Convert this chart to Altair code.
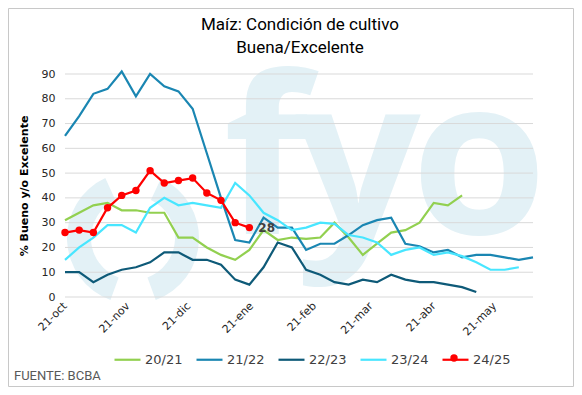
import json
import altair as alt
import pandas as pd

# ---------------- data ----------------
dates = ["2024-10-21", "2024-10-28", "2024-11-04", "2024-11-11", "2024-11-18", "2024-11-25",
         "2024-12-02", "2024-12-09", "2024-12-16", "2024-12-23", "2024-12-30",
         "2025-01-06", "2025-01-13", "2025-01-20", "2025-01-27",
         "2025-02-03", "2025-02-10", "2025-02-17", "2025-02-24",
         "2025-03-03", "2025-03-10", "2025-03-17", "2025-03-24", "2025-03-31",
         "2025-04-07", "2025-04-14", "2025-04-21", "2025-04-28",
         "2025-05-05", "2025-05-12", "2025-05-19", "2025-05-26",
         "2025-06-02", "2025-06-09"]

tick_dates = ["2024-10-21", "2024-11-21", "2024-12-21", "2025-01-21",
              "2025-02-21", "2025-03-21", "2025-04-21", "2025-05-21"]
tick_labels = ["21-oct", "21-nov", "21-dic", "21-ene", "21-feb", "21-mar", "21-abr", "21-may"]
y_ticks = [0, 10, 20, 30, 40, 50, 60, 70, 80, 90]

title_lines = ["Maíz: Condición de cultivo", "Buena/Excelente"]
source_text = "FUENTE: BCBA"

seasons = ["20/21", "21/22", "22/23", "23/24", "24/25"]
colors = ["#92D050", "#1A86B2", "#0E5A78", "#48E6FF", "#FF0000"]
widths = [2.2, 2.2, 2.2, 3.6, 2.2]

s2021 = [31, 34, 37, 38, 35, 35, 34, 34, 24, 24, 20, 17, 15, 19, 27, 23, 24, 23.5, 24, 30,
         24, 17, 21.5, 26, 27, 30, 38, 37, 41]
s2122 = [65, 73, 82, 84, 91, 81, 90, 85, 83, 76, 58, 40, 23, 22, 32, 28, 28, 19, 21.5, 21.5,
         25, 29, 31, 32, 21.5, 20.5, 18, 19, 16, 17, 17, 16, 15, 16]
s2223 = [10, 10, 6, 9, 11, 12, 14, 18, 18, 15, 15, 13, 7, 5, 12, 22, 20, 11, 9, 6,
         5, 7, 6, 9, 7, 6, 6, 5, 4, 2]
s2324 = [15, 20, 24, 29, 29, 26, 36, 40, 37, 38, 37, 36, 46, 41, 34, 31, 27, 28, 30, 29.5,
         25, 24, 22, 17, 19, 20, 17, 18, 16.5, 14, 11, 11, 12]
s2425 = [26, 27, 26, 36, 41, 43, 51, 46, 47, 48, 42, 39, 30, 28]

series = [s2021, s2122, s2223, s2324, s2425]

# ---------------- frames ----------------
origin = pd.Timestamp(dates[0])
days = [int((pd.Timestamp(d) - origin).days) for d in dates]
tick_days = [int((pd.Timestamp(d) - origin).days) for d in tick_dates]

rows = []
for name, vals in zip(seasons, series):
    for i, v in enumerate(vals):
        rows.append({"season": name, "day": days[i], "value": v})
df = pd.DataFrame(rows)
last = pd.DataFrame([{"day": days[len(s2425) - 1], "value": s2425[-1]}])
grid_df = pd.DataFrame({"value": y_ticks})
one = pd.DataFrame({"k": [0]})

W, H = 468, 223
WM = "#E3F1F6"
TFONT = "Roboto"

label_expr = f"{json.dumps(tick_labels)}[indexof({json.dumps(tick_days)}, datum.value)]"

x_enc = alt.X("day:Q",
              scale=alt.Scale(domain=[0, days[-1]], nice=False, zero=False),
              axis=alt.Axis(values=tick_days, labelExpr=label_expr, labelAngle=-45,
                            labelAlign="right", labelBaseline="middle", grid=False,
                            domain=False, ticks=False, tickSize=0, labelPadding=7,
                            labelFont="DejaVu Sans", labelFontSize=11, labelColor="#262626",
                            title=None, labelOverlap=False))
y_enc = alt.Y("value:Q",
              scale=alt.Scale(domain=[0, 90], nice=False),
              axis=alt.Axis(values=y_ticks, grid=False, domain=False, ticks=False, tickSize=0,
                            labelPadding=10, labelFont="DejaVu Sans", labelFontSize=11,
                            labelColor="#262626", title="% Bueno y/o Excelente",
                            titleFont="DejaVu Sans", titleFontSize=11, titleFontWeight="bold",
                            titleColor="#000000", titlePadding=12))

# watermark logo
def wm_text(ch, x):
    return alt.Chart(one).mark_text(text=ch, font="Open Sans", fontWeight="bold", fontSize=220,
                                    color=WM, align="center", baseline="alphabetic").encode(
        x=alt.value(x), y=alt.value(160))

wm_f = wm_text("f", 201)
wm_y = wm_text("y", 293)
wm_o = wm_text("o", 414)
wm_l = alt.Chart(one).mark_arc(color=WM, radius=66, radius2=42, theta=3.49, theta2=5.85).encode(
    x=alt.value(68), y=alt.value(164))
wm_r = alt.Chart(one).mark_arc(color=WM, radius=66, radius2=42, theta=0.44, theta2=2.79).encode(
    x=alt.value(68), y=alt.value(164))

grid = alt.Chart(grid_df).mark_rule(color="#D9D9D9", strokeWidth=1).encode(
    y=y_enc, x=alt.value(0), x2=alt.value(W))

lines = alt.Chart(df).mark_line().encode(
    x=x_enc, y=y_enc,
    color=alt.Color("season:N", sort=seasons,
                    scale=alt.Scale(domain=seasons, range=colors),
                    legend=alt.Legend(orient="none", legendX=48, legendY=271,
                                      direction="horizontal", title=None,
                                      symbolType="stroke", symbolStrokeWidth=3,
                                      symbolSize=676, labelFont="DejaVu Sans",
                                      labelFontSize=13, labelColor="#404040",
                                      columnPadding=9, labelOffset=3)),
    strokeWidth=alt.StrokeWidth("season:N", scale=alt.Scale(domain=seasons, range=widths),
                                legend=None),
)

pts = alt.Chart(df).transform_filter(alt.datum.season == "24/25").mark_circle(
    size=55, opacity=1, color="#FF0000").encode(x=x_enc, y=y_enc)

# marker on the 24/25 legend symbol
leg_dot = alt.Chart(one).mark_circle(size=55, opacity=1, color="#FF0000").encode(
    x=alt.value(389), y=alt.value(284))

lab = alt.Chart(last).mark_text(align="left", baseline="middle", dx=9, font="DejaVu Sans",
                                fontWeight="bold", fontSize=12, color="#404040").encode(
    x=x_enc, y=y_enc, text=alt.Text("value:Q"))

t1 = alt.Chart(one).mark_text(text=title_lines[0], align="center", baseline="middle",
                              font=TFONT, fontSize=17, color="#000000").encode(
    x=alt.value(235), y=alt.value(-49))
t2 = alt.Chart(one).mark_text(text=title_lines[1], align="center", baseline="middle",
                              font=TFONT, fontSize=17, color="#000000").encode(
    x=alt.value(235), y=alt.value(-26))

src = alt.Chart(one).mark_text(text=source_text, align="left", baseline="middle",
                               font=TFONT, fontSize=13, color="#595959").encode(
    x=alt.value(-51), y=alt.value(302))

border = alt.Chart(one).mark_rect(fillOpacity=0, stroke="#C8C8C8", strokeWidth=1).encode(
    x=alt.value(-56.5), x2=alt.value(508.5), y=alt.value(-65.5), y2=alt.value(312.5))

chart = alt.layer(border, wm_l, wm_r, wm_f, wm_y, wm_o, grid, lines, pts, lab,
                  t1, t2, src, leg_dot).properties(
    width=W, height=H,
    autosize=alt.AutoSizeParams(type="none"),
    padding={"left": 57, "top": 66, "right": 41, "bottom": 90},
    background="white",
).configure_view(strokeWidth=0)

chart.save("out.html", embed_options={"renderer": "svg", "actions": False})
